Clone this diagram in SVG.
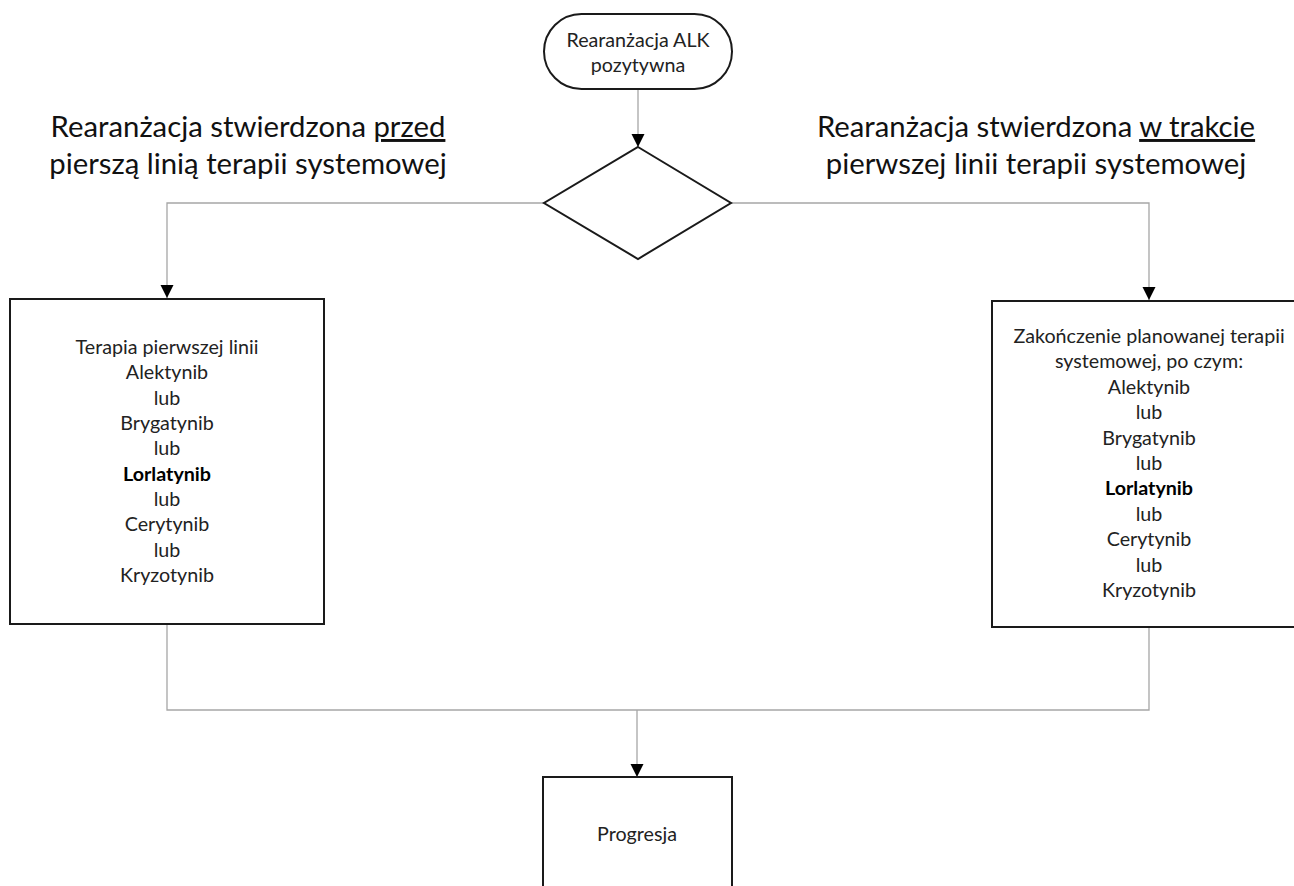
<svg xmlns="http://www.w3.org/2000/svg" width="1294" height="886" viewBox="0 0 1294 886">
<style>
.node{fill:#fff;stroke:#1a1a1a;stroke-width:2}
.conn{fill:none;stroke:#a6a6a6;stroke-width:1.3}
.t{font-family:Lato,"Open Sans","Liberation Sans",sans-serif;fill:#222;text-anchor:middle}
.s{font-size:19.7px}
.h{font-size:29.3px;fill:#111}
.b{font-weight:bold;fill:#000}
</style>
<defs>
<marker id="arr" markerUnits="userSpaceOnUse" markerWidth="14" markerHeight="14" viewBox="0 0 14 14" refX="13" refY="7" orient="auto">
<path d="M0,0.5 L13,7 L0,13.5 z" fill="#000"/>
</marker>
</defs>
<rect width="1294" height="886" fill="#fff"/>
<g id="connectors">
<path class="conn" d="M638,89 V147" marker-end="url(#arr)"/>
<path class="conn" d="M544,203 H167 V298" marker-end="url(#arr)"/>
<path class="conn" d="M731,203 H1149 V300" marker-end="url(#arr)"/>
<path class="conn" d="M167,624 V710 H1149 V627"/>
<path class="conn" d="M637,710 V777" marker-end="url(#arr)"/>
</g>
<g id="start">
<rect class="node" x="544" y="14" width="188" height="75" rx="37.5"/>
<text class="t s" x="638" y="47">Rearanżacja ALK</text>
<text class="t s" x="638" y="72">pozytywna</text>
</g>
<g id="decision">
<polygon class="node" points="638,147 731,203 638,259 544,203"/>
</g>
<g id="label-left">
<text class="t h" x="248" y="137">Rearanżacja stwierdzona <tspan text-decoration="underline">przed</tspan></text>
<text class="t h" x="248" y="174">pierszą linią terapii systemowej</text>
</g>
<g id="label-right">
<text class="t h" x="1036" y="137">Rearanżacja stwierdzona <tspan text-decoration="underline">w trakcie</tspan></text>
<text class="t h" x="1036" y="174">pierwszej linii terapii systemowej</text>
</g>
<g id="left-box">
<rect class="node" x="10" y="299" width="314" height="325"/>
<text class="t s" x="167" y="354">Terapia pierwszej linii</text>
<text class="t s" x="167" y="379">Alektynib</text>
<text class="t s" x="167" y="405">lub</text>
<text class="t s" x="167" y="430">Brygatynib</text>
<text class="t s" x="167" y="455">lub</text>
<text class="t s b" x="167" y="481">Lorlatynib</text>
<text class="t s" x="167" y="506">lub</text>
<text class="t s" x="167" y="531">Cerytynib</text>
<text class="t s" x="167" y="557">lub</text>
<text class="t s" x="167" y="582">Kryzotynib</text>
</g>
<g id="right-box">
<rect class="node" x="992" y="301" width="314" height="326"/>
<text class="t s" x="1149" y="343">Zakończenie planowanej terapii</text>
<text class="t s" x="1149" y="368">systemowej, po czym:</text>
<text class="t s" x="1149" y="394">Alektynib</text>
<text class="t s" x="1149" y="419">lub</text>
<text class="t s" x="1149" y="445">Brygatynib</text>
<text class="t s" x="1149" y="470">lub</text>
<text class="t s b" x="1149" y="495">Lorlatynib</text>
<text class="t s" x="1149" y="521">lub</text>
<text class="t s" x="1149" y="546">Cerytynib</text>
<text class="t s" x="1149" y="572">lub</text>
<text class="t s" x="1149" y="597">Kryzotynib</text>
</g>
<g id="progresja">
<rect class="node" x="543" y="777" width="189" height="130"/>
<text class="t s" x="637" y="841">Progresja</text>
</g>
</svg>
